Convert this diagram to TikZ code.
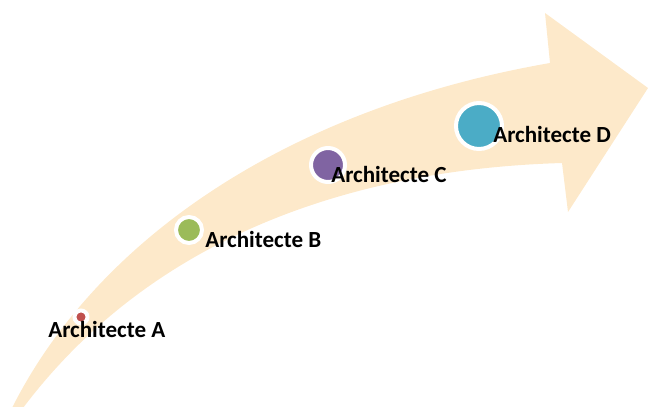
\documentclass[tikz,border=0pt]{standalone}
\usepackage{fontspec}
\setmainfont{Carlito}
\usepackage{xcolor}
\usepackage{tikz}
\usetikzlibrary{positioning}
\definecolor{arrowpeach}{RGB}{253,233,202}
\definecolor{archred}{RGB}{192,80,77}
\definecolor{archgreen}{RGB}{155,187,89}
\definecolor{archpurple}{RGB}{128,100,162}
\definecolor{archblue}{RGB}{75,172,198}

\begin{document}
\begin{tikzpicture}[
    x=0.025cm, y=-0.025cm,
    dot/.style={circle, draw=white, line width=0.1cm, inner sep=0pt},
    archlabel/.style={font=\fontsize{16.4}{19}\selectfont\bfseries,
        anchor=base west, inner sep=0pt, text=black},
]
\useasboundingbox (0,0) rectangle (648,406);

% === Curved growth arrow ===
\begin{scope}
\clip (0,0) rectangle (648,406);
\fill[arrowpeach] (10,412) .. controls (92,245) and (280,110) .. (550,63)
    -- (545,13) -- (648,88) -- (568,212) -- (562,163)
    .. controls (330,170) and (140,250) .. (20,412) -- cycle;
\end{scope}

% === Milestones ===
\node[dot, fill=archred,    minimum size=0.325cm] (dotA) at (81,317) {};
\node[dot, fill=archgreen,  minimum size=0.65cm]  (dotB) at (189,230) {};
\node[dot, fill=archpurple, minimum size=0.85cm]  (dotC) at (328,165) {};
\node[dot, fill=archblue,   minimum size=1.15cm]  (dotD) at (479,126) {};

% Labels
\node[archlabel] (labA) at (48,337) {Architecte A};
\node[archlabel] (labB) at (205,247) {Architecte B};
\node[archlabel] (labC) at (331,183) {Architecte C};
\node[archlabel] (labD) at (493,143) {Architecte D};

\end{tikzpicture}
\end{document}
